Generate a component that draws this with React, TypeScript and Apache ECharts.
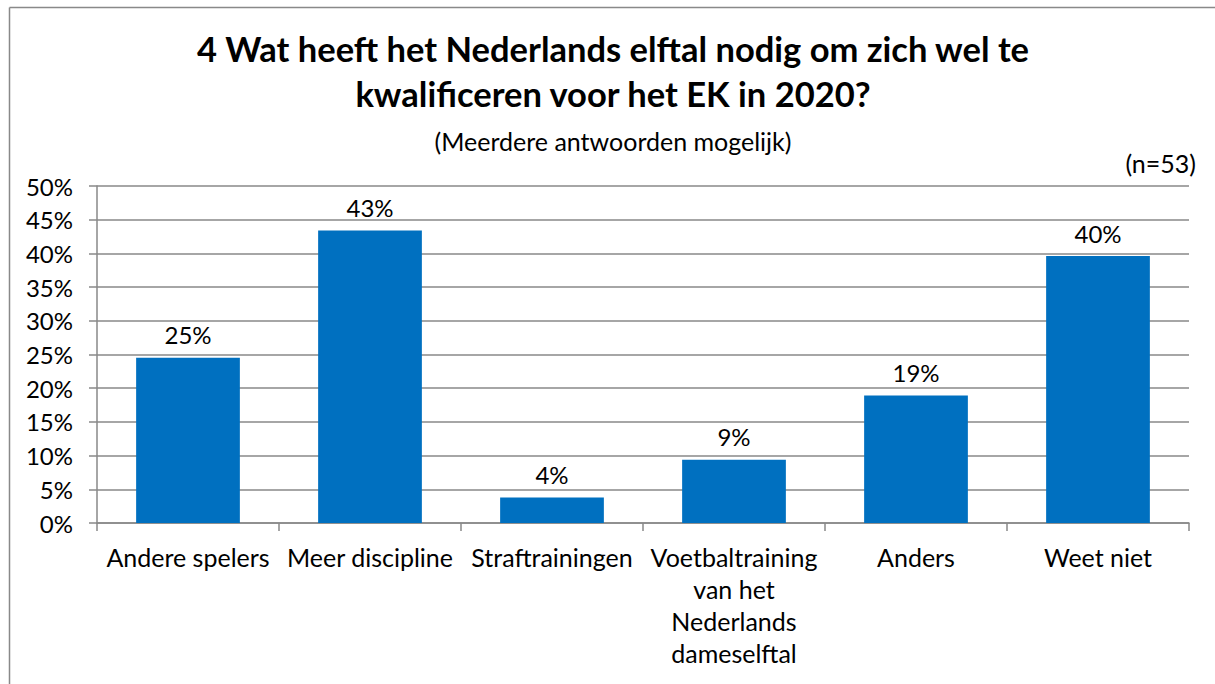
import React, { useEffect, useRef } from "react";
import * as echarts from "echarts";

const titleLines = [
  "4 Wat heeft het Nederlands elftal nodig om zich wel te",
  "kwalificeren voor het EK in 2020?",
];
const subtitle = "(Meerdere antwoorden mogelijk)";
const sampleNote = "(n=53)";
const categories = [
  "Andere spelers",
  "Meer discipline",
  "Straftrainingen",
  "Voetbaltraining\nvan het\nNederlands\ndameselftal",
  "Anders",
  "Weet niet",
];
const values = [24.5, 43.4, 3.8, 9.4, 18.9, 39.6];
const yTicks = { min: 0, max: 50, interval: 5 };

const FONT = "Lato";

export default function App() {
  const ref = useRef<HTMLDivElement>(null);
  useEffect(() => {
    document.body.style.margin = "0";
    const chart = echarts.init(ref.current!, null, { renderer: "svg" });
    chart.setOption({
      animation: false,
      backgroundColor: "#ffffff",
      textStyle: { fontFamily: FONT },
      title: [
        {
          text: titleLines.join("\n"),
          left: 608,
          top: 21,
          textAlign: "center",
          textStyle: {
            fontFamily: FONT,
            fontWeight: "bold",
            fontSize: 34.5,
            lineHeight: 45,
            color: "#000",
          },
        },
        {
          text: subtitle,
          left: 608,
          top: 123,
          textAlign: "center",
          textStyle: { fontFamily: FONT, fontWeight: "normal", fontSize: 25, color: "#000" },
        },
        {
          text: sampleNote,
          right: 14,
          top: 145,
          textStyle: { fontFamily: FONT, fontWeight: "normal", fontSize: 25, color: "#000" },
        },
      ],
      graphic: [
        {
          type: "line",
          shape: { x1: 9.5, y1: 7.5, x2: 1215, y2: 7.5 },
          style: { stroke: "#898989", lineWidth: 1.5 },
          silent: true,
        },
        {
          type: "line",
          shape: { x1: 9.5, y1: 7.5, x2: 9.5, y2: 684 },
          style: { stroke: "#898989", lineWidth: 1.5 },
          silent: true,
        },
      ],
      grid: { left: 97, right: 26, top: 186, bottom: 161 },
      xAxis: {
        type: "category",
        data: categories,
        axisLine: { lineStyle: { color: "#898989", width: 1.5 } },
        axisTick: { show: true, length: 8, lineStyle: { color: "#898989", width: 1.5 } },
        axisLabel: {
          fontFamily: FONT,
          fontSize: 25,
          color: "#000",
          margin: 18,
          lineHeight: 32,
          interval: 0,
        },
      },
      yAxis: {
        type: "value",
        min: yTicks.min,
        max: yTicks.max,
        interval: yTicks.interval,
        axisLine: { show: true, lineStyle: { color: "#898989", width: 1.5 } },
        axisTick: { show: true, length: 8, lineStyle: { color: "#898989", width: 1.5 } },
        splitLine: { lineStyle: { color: "#898989", width: 1.5 } },
        axisLabel: {
          fontFamily: FONT,
          fontSize: 24,
          color: "#000",
          margin: 24,
          formatter: (v: number) => `${v}%`,
        },
      },
      series: [
        {
          type: "bar",
          data: values,
          barCategoryGap: "43%",
          itemStyle: { color: "#0070C0" },
          label: {
            show: true,
            position: "top",
            distance: 11,
            fontFamily: FONT,
            fontSize: 24,
            color: "#000",
            formatter: (p: any) => `${Math.round(p.value)}%`,
          },
        },
      ],
    });
    return () => chart.dispose();
  }, []);
  return <div ref={ref} style={{ width: 1215, height: 684 }} />;
}
